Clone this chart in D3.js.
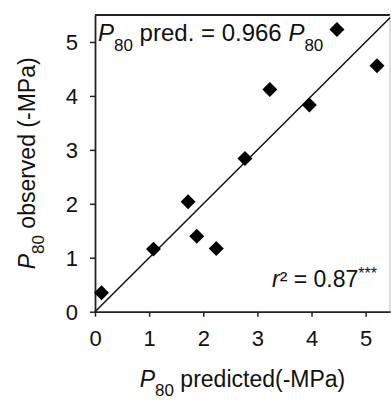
<!DOCTYPE html>
<html>
<head>
<meta charset="utf-8">
<script src="https://cdn.jsdelivr.net/npm/d3@7"></script>
<style>
    body { margin: 0; background: #fff; }
    svg text { font-family: 'Liberation Sans', Arial, sans-serif; fill: #111; }
</style>
</head>
<body>
<svg id="chart" width="391" height="404"></svg>
<script>
// values
const predicted = [0.12, 1.08, 1.72, 1.88, 2.24, 2.77, 3.23, 3.96, 4.47, 5.21];
const observed = [0.35, 1.16, 2.04, 1.40, 1.17, 2.84, 4.12, 3.83, 5.23, 4.56];
const xTicks = [0, 1, 2, 3, 4, 5];
const yTicks = [0, 1, 2, 3, 4, 5];
const xDomain = [0, 5.45];
const yDomain = [0, 5.5];

const svg = d3.select('#chart');
const box = {left: 95, right: 390, top: 15, bottom: 311.7};

const x = d3.scaleLinear().domain(xDomain).range([box.left, box.right]);
const y = d3.scaleLinear().domain(yDomain).range([box.bottom, box.top]);

// frame: top and right
svg.append('line')
    .attr('x1', box.left).attr('x2', box.right)
    .attr('y1', box.top).attr('y2', box.top)
    .attr('stroke', '#222').attr('stroke-width', 1.8);
svg.append('line')
    .attr('x1', box.right).attr('x2', box.right)
    .attr('y1', box.top).attr('y2', box.bottom)
    .attr('stroke', '#bbb').attr('stroke-width', 1);

// axes
const xAxis = svg.append('g')
    .attr('transform', `translate(0,${box.bottom})`)
    .call(d3.axisBottom(x).tickValues(xTicks).tickFormat(d3.format('d'))
        .tickSize(5).tickPadding(14).tickSizeOuter(0));
const yAxis = svg.append('g')
    .attr('transform', `translate(${box.left},0)`)
    .call(d3.axisLeft(y).tickValues(yTicks).tickFormat(d3.format('d'))
        .tickSize(5).tickPadding(12).tickSizeOuter(0));

[xAxis, yAxis].forEach((ax) => {
    ax.select('.domain').attr('stroke', '#222').attr('stroke-width', 1.8);
    ax.selectAll('.tick line').attr('stroke', '#222').attr('stroke-width', 1.5);
    ax.selectAll('.tick text')
        .style('font-family', "'Liberation Sans', Arial, sans-serif")
        .style('font-size', '22px')
        .attr('fill', '#111');
});
yAxis.selectAll('.tick text').attr('dy', '0.36em');

// 1:1 line
svg.append('line')
    .attr('x1', x(0)).attr('y1', y(0))
    .attr('x2', x(xDomain[1])).attr('y2', y(xDomain[1]))
    .attr('stroke', '#111').attr('stroke-width', 1.5);

// points
const diamond = d3.symbol().type(d3.symbolSquare).size(112);
svg.append('g')
  .selectAll('path')
  .data(predicted.map((p, i) => [p, observed[i]]))
  .enter()
  .append('path')
    .attr('d', diamond)
    .attr('transform', (d) => `translate(${x(d[0])},${y(d[1])}) rotate(45)`)
    .attr('fill', '#000');

// annotation, top left
const eq = svg.append('text')
    .attr('x', 98).attr('y', 41)
    .style('font-size', '24px');
eq.append('tspan').attr('font-style', 'italic').text('P');
eq.append('tspan').attr('dy', 10).style('font-size', '17px').text('80');
eq.append('tspan').attr('dy', -10).text(' pred. = 0.966 ');
eq.append('tspan').attr('font-style', 'italic').text('P');
eq.append('tspan').attr('dy', 10).style('font-size', '17px').text('80');

// r squared, bottom right
const r2 = svg.append('text')
    .attr('x', 377).attr('y', 287)
    .attr('text-anchor', 'end')
    .style('font-size', '23px');
r2.append('tspan').attr('font-style', 'italic').text('r');
r2.append('tspan').text('² = 0.87');
r2.append('tspan').attr('dy', -8).style('font-size', '16px').text('***');

// axis titles
const xt = svg.append('text')
    .attr('x', (box.left + box.right) / 2).attr('y', 387)
    .attr('text-anchor', 'middle')
    .style('font-size', '23px');
xt.append('tspan').attr('font-style', 'italic').text('P');
xt.append('tspan').attr('dy', 9).style('font-size', '17px').text('80');
xt.append('tspan').attr('dy', -9).text(' predicted(-MPa)');

const yt = svg.append('text')
    .attr('transform', `translate(35,${(box.top + box.bottom) / 2}) rotate(-90)`)
    .attr('text-anchor', 'middle')
    .style('font-size', '23px');
yt.append('tspan').attr('font-style', 'italic').text('P');
yt.append('tspan').attr('dy', 9).style('font-size', '17px').text('80');
yt.append('tspan').attr('dy', -9).text(' observed (-MPa)');
</script>
</body>
</html>
